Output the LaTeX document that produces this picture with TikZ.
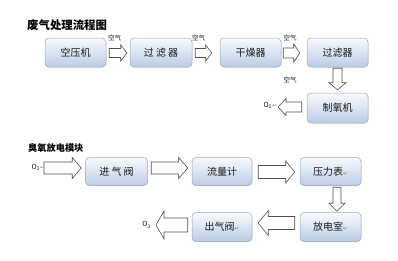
\documentclass[tikz,border=0pt]{standalone}
\usepackage{fontspec}
\setmainfont{Noto Sans CJK SC}
\newfontfamily\symfont{DejaVu Sans}
\usetikzlibrary{calc,shadows}
\definecolor{boxtop}{HTML}{F8FAFD}
\definecolor{boxbot}{HTML}{BACCE5}
\definecolor{boxline}{HTML}{97A8C1}
\definecolor{arrline}{HTML}{505050}
\definecolor{txt}{HTML}{1A1A1A}
\newcommand\retmark{{\symfont\fontsize{5.5}{5.5}\selectfont\color{gray}↵}}
\tikzset{
 proc/.style={rounded corners=4pt, draw=boxline, line width=0.5pt, top color=boxtop, bottom color=boxbot,
   drop shadow={opacity=0.12, shadow xshift=0.6pt, shadow yshift=-0.8pt},
   minimum width=61pt, minimum height=29pt, inner sep=0pt, font=\fontsize{10}{12}\selectfont, text=txt},
 barrow/.style={draw=arrline, fill=white, line width=0.6pt, line join=miter},
 small/.style={font=\fontsize{6.5}{7}\selectfont, text=txt, inner sep=0pt},
 olab/.style={font=\fontsize{7}{8}\selectfont, text=txt, inner sep=0pt},
 ttl/.style={text=black, inner sep=0pt, anchor=west},
}
\newcommand\blockarr[5]{%
 \draw[barrow] ($(#1)!#3!90:(#2)$) -- ($(#2)!#5!(#1)!#3!-90:(#1)$) -- ($(#2)!#5!(#1)!#4!-90:(#1)$)
   -- (#2) -- ($(#2)!#5!(#1)!#4!90:(#1)$) -- ($(#2)!#5!(#1)!#3!90:(#1)$) -- ($(#1)!#3!-90:(#2)$) -- cycle;}
\begin{document}
\begin{tikzpicture}[x=1pt,y=-1pt]
\useasboundingbox[fill=white] (0,0) rectangle (398,260);
% titles
\node[ttl, font=\fontsize{11.4}{13}\selectfont\bfseries] (t1) at (27,25) {废气处理流程图};
\node[ttl, font=\fontsize{9.2}{11}\selectfont\bfseries] (t2) at (28,148) {臭氧放电模块};
% boxes
\node[proc] (kyj) at (75.5,52.5) {空压机};
\node[proc, minimum width=62pt] (glq1) at (161,52.5) {过\ 滤\ 器};
\node[proc] (gzq) at (250.5,52.5) {干燥器};
\node[proc] (glq2) at (337.5,52.5) {过滤器};
\node[proc, minimum height=30pt] (zyj) at (337.5,108) {制氧机};
\node[proc, minimum width=62pt, minimum height=28pt] (jqf) at (116.5,171.5) {进\ 气\ 阀};
\node[proc, minimum width=60pt, minimum height=28pt] (llj) at (222,171.5) {流量计};
\node[proc, minimum height=28pt] (ylb) at (330.5,171.5) {压力表\retmark};
\node[proc, minimum height=29pt] (fds) at (330.5,227) {放电室\retmark};
\node[proc, minimum width=60pt, minimum height=29pt] (cqf) at (222,227) {出气阀\retmark};
% arrow end points
\coordinate (a1s) at ($(kyj.east)+(3,0.5)$);
\coordinate (a1e) at ($(glq1.west)+(-3,0.5)$);
\coordinate (a2s) at ($(glq1.east)+(3,0.5)$);
\coordinate (a2e) at ($(gzq.west)+(-8,0.5)$);
\coordinate (a3s) at ($(gzq.east)+(2,0.5)$);
\coordinate (a3e) at ($(glq2.west)+(-7,0.5)$);
\coordinate (d1s) at ($(glq2.south)+(0,1)$);
\coordinate (d1e) at ($(zyj.north)+(0,-3)$);
\coordinate (l1s) at ($(zyj.west)+(-5,-1)$);
\coordinate (l1e) at (278,107);
\coordinate (r1s) at (44,168);
\coordinate (r1e) at ($(jqf.west)+(-4,-3.5)$);
\coordinate (r2s) at ($(jqf.east)+(3.5,-3.5)$);
\coordinate (r2e) at ($(llj.west)+(-4,-3.5)$);
\coordinate (r3s) at ($(llj.east)+(6,0.5)$);
\coordinate (r3e) at ($(ylb.west)+(-5,0.5)$);
\coordinate (d2s) at ($(ylb.south)+(6.5,1.5)$);
\coordinate (d2e) at ($(fds.north)+(6.5,-1)$);
\coordinate (l2s) at ($(fds.west)+(-5,-4)$);
\coordinate (l2e) at ($(cqf.east)+(6,-4)$);
\coordinate (l3s) at ($(cqf.west)+(-4,-2)$);
\coordinate (l3e) at (156,225);
% block arrows
\blockarr{a1s}{a1e}{4.5pt}{8pt}{6pt}
\blockarr{a2s}{a2e}{4.5pt}{8pt}{6pt}
\blockarr{a3s}{a3e}{5pt}{9pt}{6pt}
\blockarr{d1s}{d1e}{4.5pt}{8.5pt}{7pt}
\blockarr{l1s}{l1e}{5pt}{8.5pt}{8pt}
\blockarr{r1s}{r1e}{6pt}{10.5pt}{9pt}
\blockarr{r2s}{r2e}{6pt}{10.5pt}{9pt}
\blockarr{r3s}{r3e}{6.5pt}{11pt}{9pt}
\blockarr{d2s}{d2e}{4pt}{8pt}{8pt}
\blockarr{l2s}{l2e}{6.5pt}{12.5pt}{10pt}
\blockarr{l3s}{l3e}{7pt}{14pt}{8pt}
% labels
\node[small] (k1) at (114.5,38) {空气};
\node[small] (k2) at (198.5,38) {空气};
\node[small] (k3) at (290,38) {空气};
\node[small] (k4) at (290,80) {空气};
\node[olab, anchor=east] (o1) at (277,105) {O\textsubscript{2}\retmark};
\node[olab, anchor=east] (o2) at (45,167) {O\textsubscript{2}\retmark};
\node[olab, anchor=east] (o3) at (151,225) {O\textsubscript{3}};
\end{tikzpicture}
\end{document}
